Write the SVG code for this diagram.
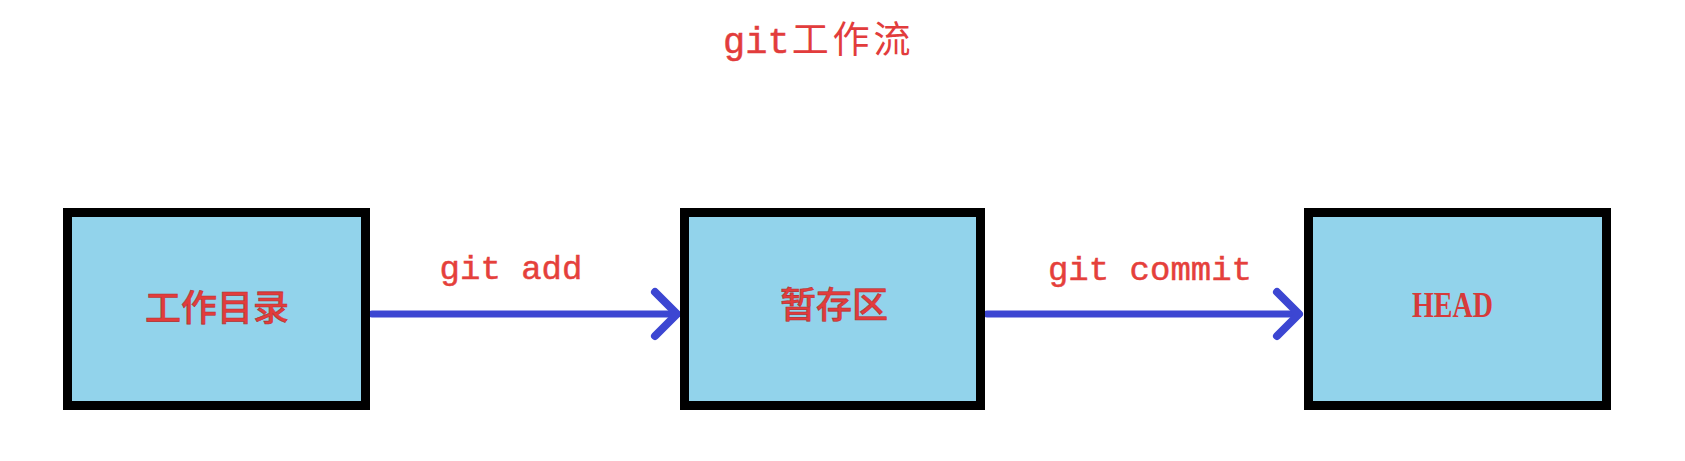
<svg xmlns="http://www.w3.org/2000/svg" width="1685" height="461" viewBox="0 0 1685 461">
  <style>
    .box { fill: #92d3eb; stroke: #000000; stroke-width: 9; }
    .cjk { font-family: "Noto Sans CJK SC", "Noto Sans", sans-serif; font-size: 36px; font-weight: 500; fill: #e23c3c; stroke: #b03030; stroke-width: 0.6; text-anchor: middle; }
    .mono { font-family: "Liberation Mono", "Noto Sans CJK SC", monospace; font-size: 34px; fill: #e5403b; stroke: #e5403b; stroke-width: 0.5; text-anchor: middle; }
    .serif { font-family: "Liberation Serif", serif; font-size: 36px; font-weight: 700; fill: #d63a3a; }
    .edge { stroke: #3c46d2; stroke-width: 7; stroke-linecap: round; fill: none; }
  </style>
  <defs>
    <marker id="chev" markerUnits="userSpaceOnUse" viewBox="-30 -30 40 60" refX="0" refY="0" markerWidth="40" markerHeight="60" orient="auto" overflow="visible">
      <path d="M-22,-22 L0,0 L-22,22" fill="none" stroke="#3c46d2" stroke-width="8" stroke-linecap="round" stroke-linejoin="round"/>
    </marker>
  </defs>
  <rect width="1685" height="461" fill="#ffffff"/>

  <g id="title">
    <text x="723" y="53" style="font-size:37px;fill:#e23c3c"><tspan style="font-family:'Liberation Mono',monospace;stroke:#e23c3c;stroke-width:0.5">git</tspan><tspan style="font-family:'Noto Sans CJK SC',sans-serif;font-weight:400" dx="2" letter-spacing="4">工作流</tspan></text>
  </g>

  <g id="connectors">
    <g id="edge-add">
      <line class="edge" x1="372" y1="314" x2="677" y2="314" marker-end="url(#chev)"/>
      <text class="mono" x="511" y="279">git add</text>
    </g>
    <g id="edge-commit">
      <line class="edge" x1="987" y1="314" x2="1299" y2="314" marker-end="url(#chev)"/>
      <text class="mono" x="1150" y="280">git commit</text>
    </g>
  </g>

  <g id="node-workdir">
    <rect class="box" x="67.5" y="212.5" width="298" height="193"/>
    <text class="cjk" x="217" y="321">工作目录</text>
  </g>
  <g id="node-stage">
    <rect class="box" x="684.5" y="212.5" width="296" height="193"/>
    <text class="cjk" x="834" y="318">暂存区</text>
  </g>
  <g id="node-head">
    <rect class="box" x="1308.5" y="212.5" width="298" height="193"/>
    <text class="serif" x="1412" y="317" textLength="81" lengthAdjust="spacingAndGlyphs">HEAD</text>
  </g>
</svg>
